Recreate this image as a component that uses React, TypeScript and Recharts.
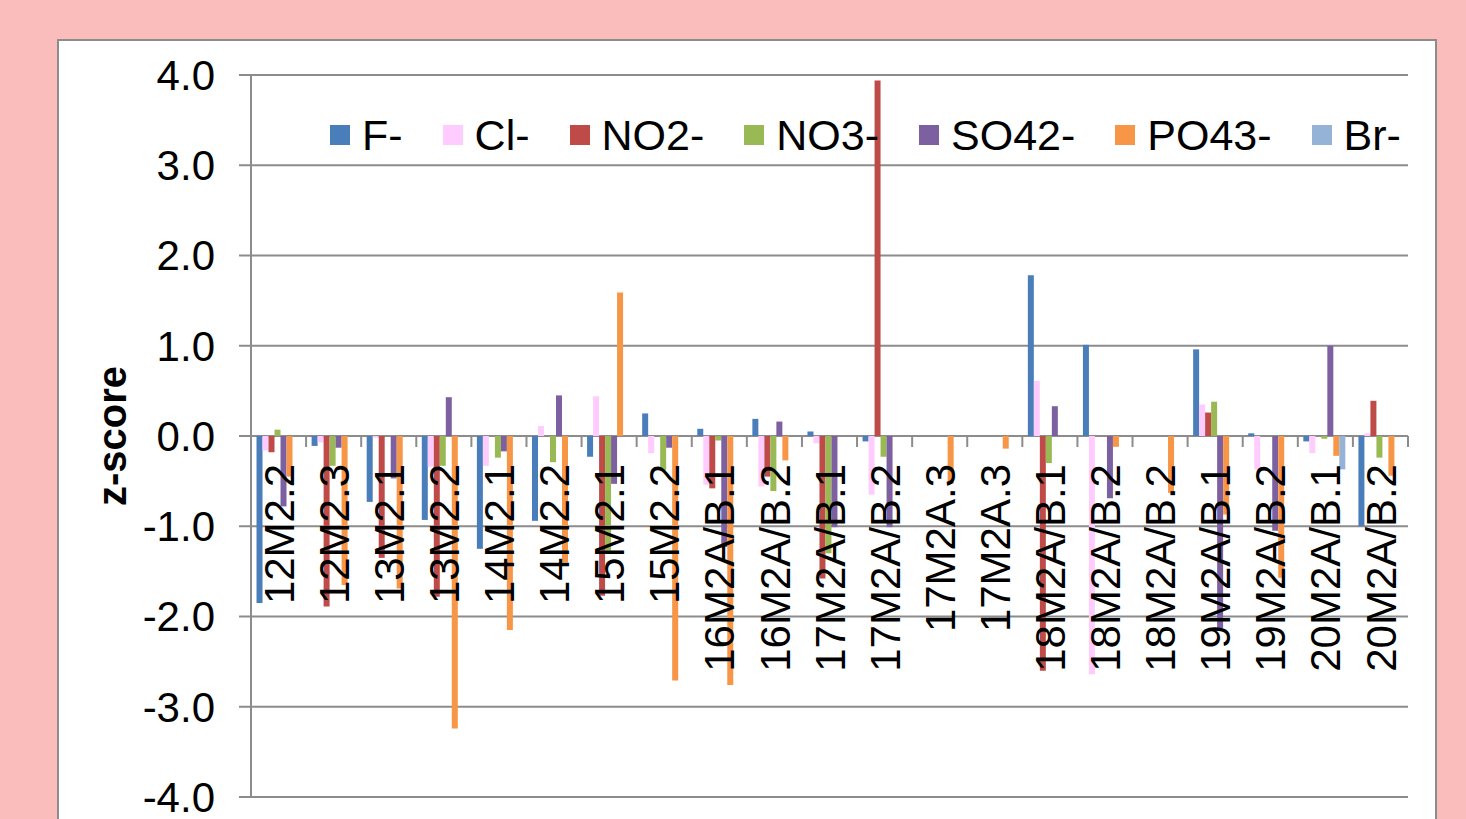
import React from 'react';
import { BarChart, Bar, XAxis, YAxis, CartesianGrid, Legend } from 'recharts';

const categories = [
  '12M2.2', '12M2.3', '13M2.1', '13M2.2', '14M2.1', '14M2.2', '15M2.1', '15M2.2',
  '16M2A/B.1', '16M2A/B.2', '17M2A/B.1', '17M2A/B.2', '17M2A.3', '17M2A.3',
  '18M2A/B.1', '18M2A/B.2', '18M2A/B.2', '19M2A/B.1', '19M2A/B.2', '20M2A/B.1', '20M2A/B.2',
];

const fValues = [-1.85, -0.11, -0.73, -0.93, -1.25, -0.94, -0.23, 0.25, 0.08, 0.19, 0.05, -0.06, 0, 0, 1.78, 1.01, 0, 0.96, 0.03, -0.06, -1.0];
const clValues = [-0.16, -0.07, -0.02, -0.34, -0.33, 0.11, 0.44, -0.19, -0.54, -0.56, -0.08, -0.65, 0, 0, 0.61, -2.64, 0, 0.35, -0.37, -0.19, 0.03];
const no2Values = [-0.18, -1.89, -1.35, -1.78, 0, 0, -1.77, 0, -0.58, -0.45, -1.58, 3.94, 0, 0, -2.6, 0, 0, 0.26, 0, 0, 0.39];
const no3Values = [0.07, -0.33, 0, -0.33, -0.24, -0.29, -1.27, -0.38, -0.05, -0.61, -1.3, -0.23, 0, 0, -0.3, 0, 0, 0.38, 0, -0.03, -0.24];
const so4Values = [-0.78, -0.13, -0.47, 0.43, -0.17, 0.45, -0.53, -0.13, -1.23, 0.16, -1.01, -1.01, 0, 0, 0.33, -0.69, 0, -2.13, -1.05, 1.0, 0];
const po4Values = [-0.45, -1.65, -1.69, -3.24, -2.15, -1.4, 1.59, -2.71, -2.76, -0.27, 0, 0, -0.53, -0.14, 0, -0.12, -0.63, -0.87, -1.57, -0.22, -0.44];
const brValues = [0, 0, 0, 0, 0, 0, 0, 0, 0, 0, 0, 0, 0, 0, 0, 0, 0, 0, 0, -0.37, 0];

const seriesNames = ['F-', 'Cl-', 'NO2-', 'NO3-', 'SO42-', 'PO43-', 'Br-'];
const seriesValues = [fValues, clValues, no2Values, no3Values, so4Values, po4Values, brValues];
const seriesColors = ['#4A7EBB', '#FFCCFF', '#BE4B48', '#98B954', '#7D60A0', '#F79646', '#95B3D7'];
const yTicks = [-4, -3, -2, -1, 0, 1, 2, 3, 4];

const data = categories.map((c, i) => {
  const row: Record<string, number | string> = { idx: i, name: c };
  seriesValues.forEach((vals, s) => {
    row['s' + s] = vals[i];
  });
  return row;
});

const FONT = '"Liberation Sans", Arial, sans-serif';
const GRID = '#8C8C8C';
const CHART_W = 1466;
const CHART_H = 819;
const X_AXIS_H = 1;
const MARGIN = { top: 75, right: 58, bottom: 21, left: 0 };
const Y_AXIS_W = 251;
const PLOT_H = CHART_H - MARGIN.top - MARGIN.bottom - X_AXIS_H;
const PLOT_W = CHART_W - MARGIN.left - MARGIN.right - Y_AXIS_W;
const BAND = PLOT_W / categories.length;
const Y_MIN = -4;
const Y_MAX = 4;
const ZERO_Y = MARGIN.top + (PLOT_H * (Y_MAX - 0)) / (Y_MAX - Y_MIN);

const CategoryTick = (props: any) => {
  const { x, payload, index } = props;
  const label = categories[payload.value];
  const ly = ZERO_Y + 28;
  return (
    <g>
      <line x1={x - BAND / 2} x2={x - BAND / 2} y1={ZERO_Y} y2={ZERO_Y + 11} stroke={GRID} strokeWidth={2} />
      {index === categories.length - 1 && (
        <line x1={x + BAND / 2} x2={x + BAND / 2} y1={ZERO_Y} y2={ZERO_Y + 11} stroke={GRID} strokeWidth={2} />
      )}
      <text
        x={x}
        y={ly}
        dy="0.36em"
        textAnchor="end"
        transform={`rotate(-90, ${x}, ${ly})`}
        fontSize={42}
        fontFamily={FONT}
        fill="#000"
      >
        {label}
      </text>
    </g>
  );
};

const YLabel = (props: any) => {
  const vb = props.viewBox || { x: 0, y: MARGIN.top, width: Y_AXIS_W, height: PLOT_H };
  const cx = vb.x + 112;
  const cy = vb.y + vb.height / 2;
  return (
    <text
      x={cx}
      y={cy}
      textAnchor="middle"
      dominantBaseline="central"
      transform={`rotate(-90, ${cx}, ${cy})`}
      fontSize={40}
      fontWeight="bold"
      fontFamily={FONT}
      fill="#000"
    >
      z-score
    </text>
  );
};

const LegendContent = () => (
  <div
    style={{
      display: 'flex',
      alignItems: 'center',
      gap: 40,
      fontSize: 43,
      lineHeight: '48px',
      fontFamily: FONT,
      color: '#000',
      whiteSpace: 'nowrap',
    }}
  >
    {seriesNames.map((n, i) => (
      <div key={n} style={{ display: 'flex', alignItems: 'center' }}>
        <span
          style={{
            display: 'inline-block',
            width: 20,
            height: 20,
            background: seriesColors[i],
            marginRight: 12,
          }}
        />
        <span>{n}</span>
      </div>
    ))}
  </div>
);

export default function App() {
  return (
    <div
      style={{
        position: 'absolute',
        left: 0,
        top: 0,
        width: CHART_W,
        height: CHART_H,
        background: '#FBBCBC',
        overflow: 'hidden',
      }}
    >
      <div
        style={{
          position: 'absolute',
          left: 57,
          top: 39,
          width: 1380,
          height: 820,
          background: '#FFFFFF',
          border: `2px solid ${GRID}`,
          boxSizing: 'border-box',
        }}
      />
      <div style={{ position: 'absolute', left: 0, top: 0 }}>
        <BarChart
          width={CHART_W}
          height={CHART_H}
          data={data}
          margin={MARGIN}
          barCategoryGap="10%"
          barGap={0}
          style={{ fontFamily: FONT }}
        >
          <CartesianGrid vertical={false} stroke={GRID} strokeWidth={2} />
          {seriesNames.map((n, i) => (
            <Bar key={n} dataKey={'s' + i} name={n} fill={seriesColors[i]} isAnimationActive={false} />
          ))}
          <YAxis
            type="number"
            domain={[Y_MIN, Y_MAX]}
            ticks={yTicks}
            interval={0}
            width={Y_AXIS_W}
            tickFormatter={(v: number) => v.toFixed(1)}
            tick={{ fontSize: 42, fill: '#000', fontFamily: FONT }}
            axisLine={{ stroke: GRID, strokeWidth: 2 }}
            tickLine={{ stroke: GRID, strokeWidth: 2 }}
            tickSize={12}
            tickMargin={24}
            label={<YLabel />}
          />
          <XAxis
            dataKey="idx"
            type="category"
            interval={0}
            height={X_AXIS_H}
            axisLine={false}
            tickLine={false}
            tick={<CategoryTick />}
          />
          <Legend
            content={<LegendContent />}
            verticalAlign="middle"
            align="center"
            layout="horizontal"
            wrapperStyle={{ left: 330, top: 111, width: 'auto' }}
          />
        </BarChart>
      </div>
    </div>
  );
}
